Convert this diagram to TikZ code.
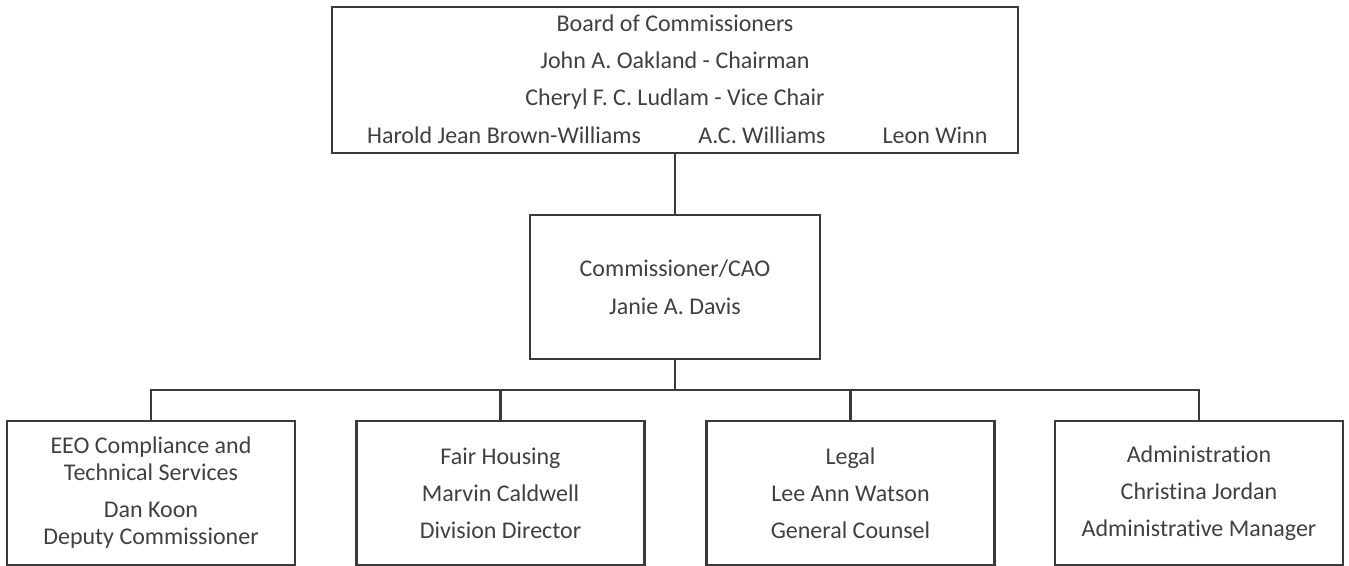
\documentclass[tikz,border=0pt]{standalone}
\usepackage{fontspec}
\setmainfont{Carlito}[RawFeature=-liga]
\definecolor{linec}{HTML}{3A3A3A}
\definecolor{textc}{HTML}{404040}
\begin{document}
\begin{tikzpicture}[x=0.5pt,y=-0.5pt,
  box/.style={draw=linec, line width=1.2pt, fill=white, inner sep=0pt, align=center,
    text=textc, font=\fontsize{12}{18.5}\selectfont},
  txt/.style={inner sep=0pt, text=textc, font=\fontsize{12}{18.5}\selectfont,
    text height=9pt, text depth=2pt},
  conn/.style={draw=linec, line width=1.2pt}]
\useasboundingbox (0,0) rectangle (1349,566);
% boxes
\node[box, minimum width=343pt, minimum height=73pt] (board) at (675,80) {};
\node[box, minimum width=145pt, minimum height=72pt] (cao) at (675,287)
  {Commissioner/CAO\\[0.5pt]Janie A. Davis};
\node[box, minimum width=144pt, minimum height=72pt] (d1) at (151,493)
  {EEO Compliance and\\[-5pt]Technical Services\\Dan Koon\\[-5pt]Deputy Commissioner};
\node[box, minimum width=144pt, minimum height=72pt] (d2) at (500.5,493)
  {Fair Housing\\Marvin Caldwell\\Division Director};
\node[box, minimum width=144pt, minimum height=72pt] (d3) at (850.5,493)
  {Legal\\Lee Ann Watson\\General Counsel};
\node[box, minimum width=144pt, minimum height=72pt] (d4) at (1199,493)
  {Administration\\Christina Jordan\\Administrative Manager\vphantom{y}};
% board texts
\node[txt] (b1) at (675,25) {Board of Commissioners};
\node[txt] (b2) at (675,62) {John A. Oakland - Chairman};
\node[txt] (b3) at (675,99) {Cheryl F. C. Ludlam - Vice Chair};
\node[txt] (b4) at (504,137) {Harold Jean Brown-Williams};
\node[txt] (b5) at (762,137) {A.C. Williams};
\node[txt] (b6) at (935,137) {Leon Winn};
% connectors
\coordinate (bus) at (675,390);
\draw[conn] (board.south) -- (cao.north);
\draw[conn] (cao.south) -- (bus);
\draw[conn] (d1.north) |- (bus) -| (d4.north);
\draw[conn] (d2.north) -- (d2.north |- bus);
\draw[conn] (d3.north) -- (d3.north |- bus);
\end{tikzpicture}
\end{document}
